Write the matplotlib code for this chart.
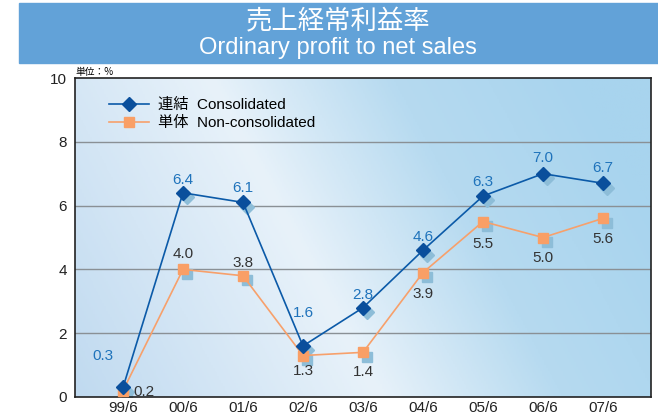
import numpy as np
import matplotlib.pyplot as plt
from matplotlib.colors import LinearSegmentedColormap
from matplotlib.patches import Rectangle

# データ
periods = ["99/6", "00/6", "01/6", "02/6", "03/6", "04/6", "05/6", "06/6", "07/6"]
consolidated = [0.3, 6.4, 6.1, 1.6, 2.8, 4.6, 6.3, 7.0, 6.7]
non_consolidated = [0.2, 4.0, 3.8, 1.3, 1.4, 3.9, 5.5, 5.0, 5.6]

# ラベル位置のオフセット（ピクセル）
cons_offsets = [(-20, 31), (0, 13), (0, 14), (0, 33), (0, 13), (0, 13), (0, 14), (0, 16), (0, 15)]
non_offsets = [(21, -1), (0, 15), (0, 13), (0, -15), (0, -20), (0, -21), (0, -22), (0, -21), (0, -21)]

plt.rcParams['font.family'] = ['Liberation Sans', 'Noto Sans CJK JP', 'DejaVu Sans']

fig = plt.figure(figsize=(6.58, 4.17), dpi=100)
W, H = 658, 417

# タイトル帯
fig.patches.append(Rectangle((19 / W, 1 - 63 / H), 1 - 19 / W, 60 / H,
                             transform=fig.transFigure, color="#62a2d8", zorder=0))
fig.text(338 / W, 1 - 21 / H, "売上経常利益率", color="white", fontsize=19,
         ha="center", va="center", family=['Noto Sans CJK JP', 'DejaVu Sans'])
fig.text(338 / W, 1 - 48 / H, "Ordinary profit to net sales", color="white",
         fontsize=17, ha="center", va="center")

ax = fig.add_axes([75 / W, 1 - 397 / H, (651 - 75) / W, (397 - 78) / H])
x = np.arange(len(periods))
ax.set_xlim(-0.8, 8.8)
ax.set_ylim(0, 10)

# 背景グラデーション
cmap = LinearSegmentedColormap.from_list(
    "bg", [(0, "#c0daf0"), (0.45, "#e8f2fa"), (0.72, "#b6daf0"), (1, "#a8d4ee")])
gx, gy = np.meshgrid(np.linspace(0, 1, 300), np.linspace(0, 1, 200))
grad = np.clip(gx * 0.85 + (1 - gy) * 0.25, 0, 1)
ax.imshow(grad, cmap=cmap, extent=(-0.8, 8.8, 0, 10), aspect="auto",
          origin="upper", zorder=0, vmin=0, vmax=1)

for yv in [2, 4, 6, 8]:
    ax.axhline(yv, color="#8a9095", lw=1, zorder=1)

# 影
shadow_dx = 0.07
ax.plot(x + shadow_dx, np.array(consolidated) - 0.14, ls="none", marker="D",
        ms=7, color="#8dbdd8", zorder=2)
ax.plot(x + shadow_dx, np.array(non_consolidated) - 0.14, ls="none", marker="s",
        ms=7, color="#8dbdd8", zorder=2)

ax.plot(x, non_consolidated, color="#f7a06b", lw=1.2, marker="s", ms=7,
        mfc="#f99f66", mec="#f99f66", zorder=3,
        label="単体  Non-consolidated")
ax.plot(x, consolidated, color="#0b5aa8", lw=1.2, marker="D", ms=7,
        mfc="#0a4f9c", mec="#0a4f9c", zorder=4,
        label="連結  Consolidated")

for xi, v, off in zip(x, consolidated, cons_offsets):
    ax.annotate(f"{v:.1f}", (xi, v), xytext=off, textcoords="offset pixels",
                ha="center", va="center", fontsize=11, color="#1f73bb", zorder=5)
for xi, v, off in zip(x, non_consolidated, non_offsets):
    ax.annotate(f"{v:.1f}", (xi, v), xytext=off, textcoords="offset pixels",
                ha="center", va="center", fontsize=11, color="#333333", zorder=5)

handles, labels = ax.get_legend_handles_labels()
leg = ax.legend(handles[::-1], labels[::-1], loc="upper left", frameon=False,
                bbox_to_anchor=(0.035, 0.98), handlelength=2.6, handletextpad=0.6,
                labelspacing=0.25,
                prop={'family': ['Liberation Sans', 'Noto Sans CJK JP'], 'size': 11})

ax.set_xticks(x)
ax.set_xticklabels(periods)
ax.set_yticks([0, 2, 4, 6, 8, 10])
ax.tick_params(length=0, labelsize=11, colors="#222222")
ax.tick_params(axis="x", pad=3)
ax.tick_params(axis="y", pad=6)
for s in ax.spines.values():
    s.set_color("#222222")
    s.set_linewidth(1.2)

fig.text(75 / W, 1 - 72 / H, "単位：%", fontsize=7, ha="left", va="center",
         family=['Noto Sans CJK JP', 'DejaVu Sans'])

fig.savefig("out.png", dpi=100)
